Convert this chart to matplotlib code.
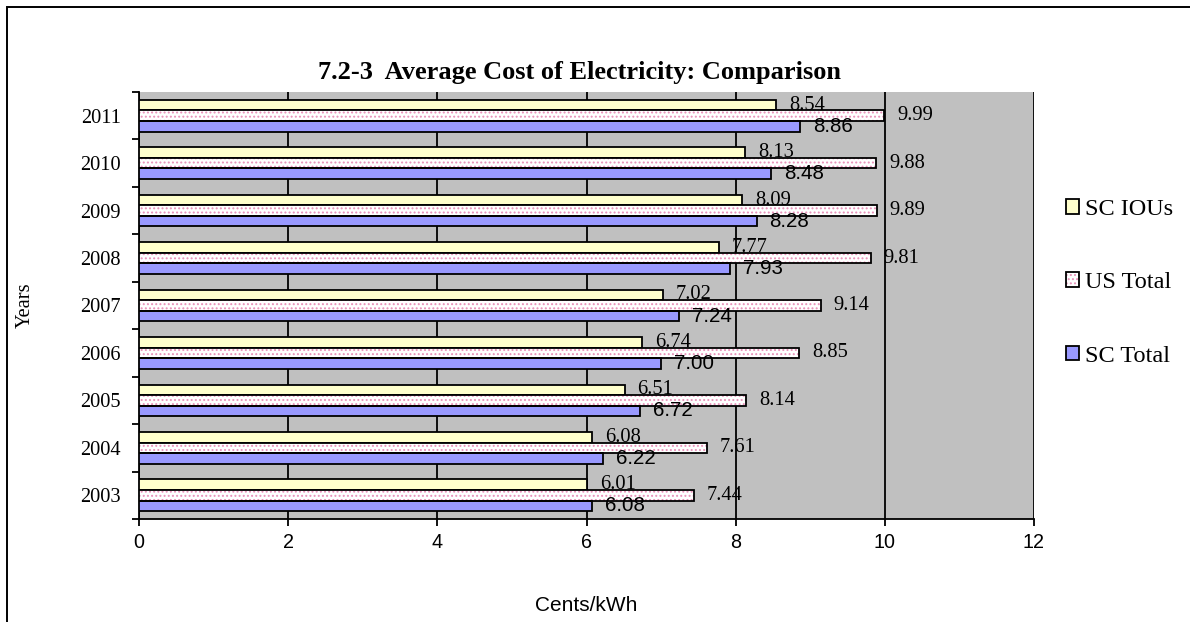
import matplotlib
matplotlib.use("Agg")
import matplotlib.pyplot as plt
from matplotlib.patches import Rectangle
import numpy as np

years = ["2003", "2004", "2005", "2006", "2007", "2008", "2009", "2010", "2011"]
sc_ious = [6.01, 6.08, 6.51, 6.74, 7.02, 7.77, 8.09, 8.13, 8.54]
us_total = [7.44, 7.61, 8.14, 8.85, 9.14, 9.81, 9.89, 9.88, 9.99]
sc_total = [6.08, 6.22, 6.72, 7.00, 7.24, 7.93, 8.28, 8.48, 8.86]
x_ticks = [0, 2, 4, 6, 8, 10, 12]

SERIF = ["Liberation Serif", "DejaVu Serif"]
SANS = ["Liberation Sans", "DejaVu Sans"]

plt.rcParams["hatch.linewidth"] = 0.9

W, H = 1190, 622
fig = plt.figure(figsize=(W / 100, H / 100), dpi=100)
fig.patch.set_facecolor("white")

# plot area in pixel terms
left, right, top, bottom = 139, 1034, 92, 519
ax = fig.add_axes([left / W, 1 - bottom / H, (right - left) / W, (bottom - top) / H])
ax.set_facecolor("#C0C0C0")

pos = np.arange(len(years))
bh = 1 / 4.5

yellow = "#FFFFCC"
blue = "#9999FF"
pink = "#E890B8"

LBL = 14.8

b_iou = ax.barh(pos + bh, sc_ious, height=bh, color=yellow, edgecolor="black",
                linewidth=1.3, zorder=3)
b_us_fill = ax.barh(pos, us_total, height=bh, color="white", edgecolor=pink,
                    hatch="....", linewidth=0, zorder=3)
b_us_edge = ax.barh(pos, us_total, height=bh, fill=False, edgecolor="black",
                    linewidth=1.3, zorder=3.1)
b_sc = ax.barh(pos - bh, sc_total, height=bh, color=blue, edgecolor="black",
               linewidth=1.3, zorder=3)

# value labels
for i in range(len(years)):
    ax.annotate(f"{sc_ious[i]:.2f}", (sc_ious[i], pos[i] + bh), xytext=(13, 0),
                textcoords="offset pixels", va="center", ha="left",
                fontsize=LBL, family=SERIF, zorder=5)
    ax.annotate(f"{us_total[i]:.2f}", (us_total[i], pos[i]), xytext=(13, 0),
                textcoords="offset pixels", va="center", ha="left",
                fontsize=LBL, family=SERIF, zorder=5)
    ax.annotate(f"{sc_total[i]:.2f}", (sc_total[i], pos[i] - bh), xytext=(13, 0),
                textcoords="offset pixels", va="center", ha="left",
                fontsize=LBL, family=SANS, zorder=5)

ax.set_xlim(0, 12)
ax.set_ylim(-0.5, len(years) - 0.5)

ax.set_xticks(x_ticks)
ax.set_xticklabels([str(t) for t in x_ticks], family=SANS, fontsize=14.2)
ax.tick_params(axis="x", direction="out", length=5, width=1.3, pad=5)
ax.xaxis.grid(True, color="black", linewidth=1.3, zorder=1)
ax.set_axisbelow(True)

# category boundaries carry the ticks, names sit between them
ax.set_yticks(np.arange(-0.5, len(years), 1.0))
ax.set_yticklabels([])
ax.tick_params(axis="y", which="major", direction="out", length=5, width=1.3)
ax.set_yticks(pos, minor=True)
ax.set_yticklabels(years, minor=True, family=SERIF, fontsize=14.7)
ax.tick_params(axis="y", which="minor", length=0, pad=13)

for s in ["top", "right"]:
    ax.spines[s].set_visible(False)
for s in ["left", "bottom"]:
    ax.spines[s].set_color("black")
    ax.spines[s].set_linewidth(1.3)

ax.set_ylabel("Years", family=SERIF, fontsize=14.7)
ax.yaxis.set_label_coords((35 - left) / (right - left), 0.5)
ax.set_xlabel("Cents/kWh", family=SANS, fontsize=15)
ax.xaxis.set_label_coords(0.5, (bottom - 596) / (bottom - top))

fig.text(580 / W, 1 - 73 / H, "7.2-3  Average Cost of Electricity: Comparison",
         ha="center", va="center", family=SERIF, fontsize=19, fontweight="bold")

leg = fig.legend([b_iou, (b_us_fill, b_us_edge), b_sc],
                 ["SC IOUs", "US Total", "SC Total"],
                 loc="upper left", bbox_to_anchor=(1066 / W, 1 - 199 / H),
                 frameon=False, prop={"family": SERIF, "size": 17.5},
                 handlelength=0.55, handleheight=0.55, handletextpad=0.22,
                 labelspacing=2.15, borderpad=0, borderaxespad=0)

# outer chart frame
fig.add_artist(Rectangle((7 / W, -0.1), 1.2, 1 - 7 / H + 0.1,
                         transform=fig.transFigure, fill=False,
                         edgecolor="black", linewidth=1.4))

fig.savefig("out.png", dpi=100)
